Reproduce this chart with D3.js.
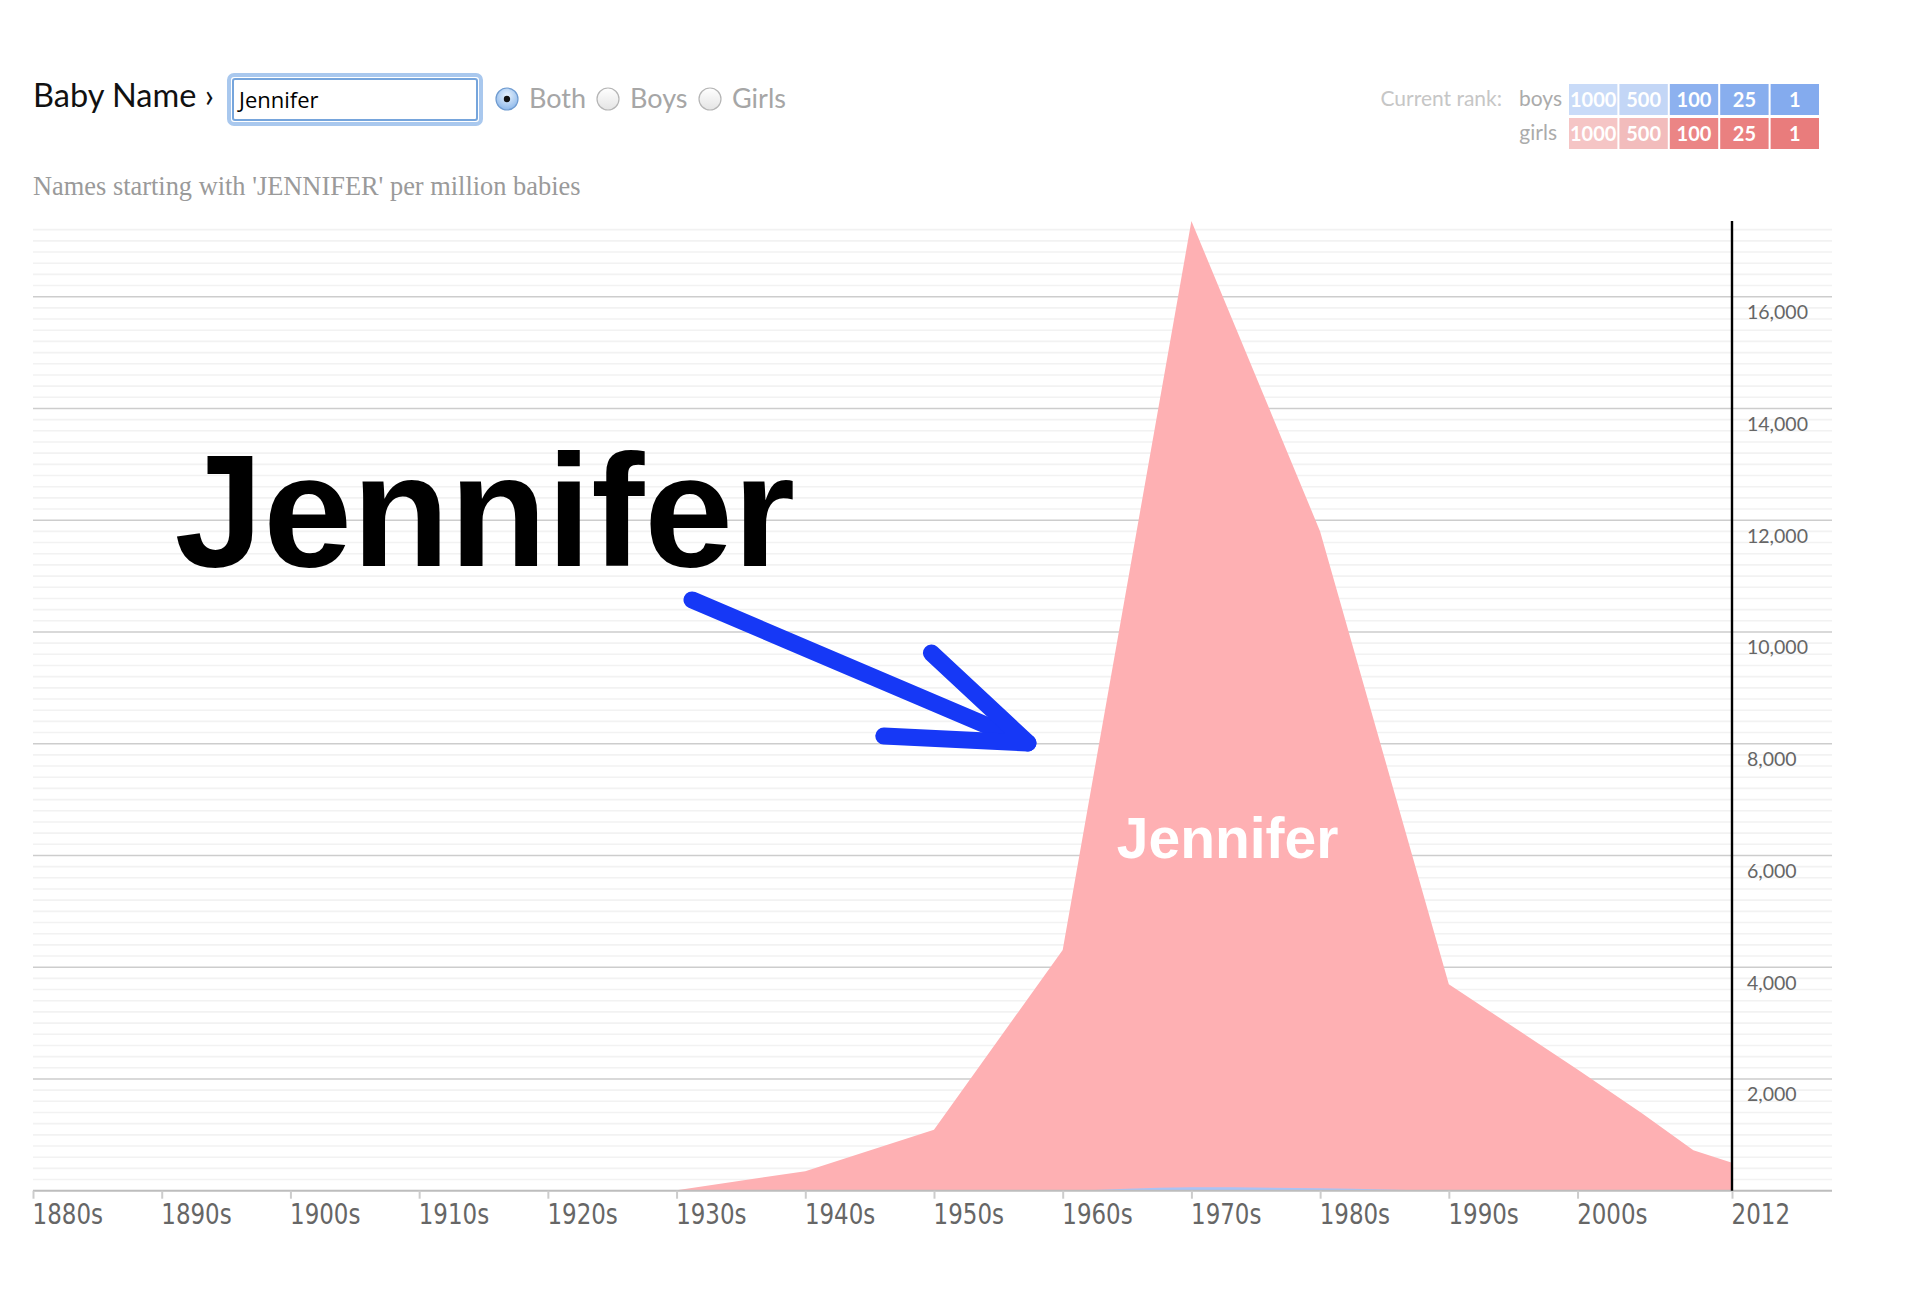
<!DOCTYPE html>
<html>
<head>
<meta charset="utf-8">
<script src="https://cdn.jsdelivr.net/npm/d3@7/dist/d3.min.js"></script>
<style>
  html, body { margin: 0; padding: 0; background: #fff; }
  svg { display: block; }
</style>
</head>
<body>
<svg id="chart" width="1920" height="1301"></svg>
<script>
// ---------- data ----------
const years = [1880, 1890, 1900, 1910, 1920, 1930, 1940, 1950, 1960, 1970, 1980, 1990, 2000, 2005, 2009, 2012];
const girlsValues = [0, 0, 0, 0, 0, 8, 350, 1090, 4310, 17355, 11800, 3694, 2170, 1385, 723, 501];
const boysValues  = [0, 0, 0, 0, 0, 0, 0, 0, 2, 60, 45, 4, 0, 0, 0, 0];
const xTickValues = [1880, 1890, 1900, 1910, 1920, 1930, 1940, 1950, 1960, 1970, 1980, 1990, 2000, 2012];
const xTickLabels = ["1880s", "1890s", "1900s", "1910s", "1920s", "1930s", "1940s", "1950s", "1960s", "1970s", "1980s", "1990s", "2000s", "2012"];
const yTickValues = [2000, 4000, 6000, 8000, 10000, 12000, 14000, 16000];
const rankLabels = ["1000", "500", "100", "25", "1"];
const boysRankColors = ["#c9dbf8", "#c3d6f6", "#8db1ef", "#88aeee", "#84abee"];
const girlsRankColors = ["#f5c5c5", "#f2bcbc", "#eb8585", "#ea8080", "#e97c7c"];
const radioOptions = ["Both", "Boys", "Girls"];
const searchName = "Jennifer";
const subtitle = "Names starting with 'JENNIFER' per million babies";
// annotation arrow in data space [year, value]
const arrowShaft = [[1931.2, 10573], [1957.3, 8013]];
const arrowHead = [[1949.8, 9624], [1957.3, 8013], [1946.1, 8139]];

// ---------- layout ----------
const svg = d3.select("#chart");
const x = d3.scaleLinear().domain([1880, 2012]).range([33, 1732]);
const y = d3.scaleLinear().domain([0, 17355]).range([1190.7, 221]);
const gridRight = 1832;

// ---------- header ----------
const uiFont = "Lato, 'Open Sans', sans-serif";
svg.append("text").attr("x", 33).attr("y", 107)
  .attr("font-family", uiFont).attr("font-size", 32.5).attr("fill", "#111")
  .text("Baby Name \u203A");

// input box
svg.append("rect").attr("x", 229).attr("y", 75).attr("width", 252).attr("height", 49).attr("rx", 5)
  .attr("fill", "#fff").attr("stroke", "#a9c8ee").attr("stroke-width", 4);
svg.append("rect").attr("x", 233).attr("y", 79).attr("width", 244).attr("height", 41).attr("rx", 2)
  .attr("fill", "#fff").attr("stroke", "#76a5dc").attr("stroke-width", 2);
svg.append("text").attr("x", 239).attr("y", 108)
  .attr("font-family", "'Open Sans', sans-serif").attr("font-size", 22).attr("fill", "#000")
  .text(searchName);

// radio buttons
const defs = svg.append("defs");
const gSel = defs.append("radialGradient").attr("id", "radioSel").attr("cx", "50%").attr("cy", "35%").attr("r", "65%");
gSel.append("stop").attr("offset", "0%").attr("stop-color", "#e8f2fd");
gSel.append("stop").attr("offset", "100%").attr("stop-color", "#8db8ea");
const gOff = defs.append("linearGradient").attr("id", "radioOff").attr("x1", "0").attr("y1", "0").attr("x2", "0").attr("y2", "1");
gOff.append("stop").attr("offset", "0%").attr("stop-color", "#ffffff");
gOff.append("stop").attr("offset", "100%").attr("stop-color", "#e4e4e4");

const radioX = [507, 608, 710];
radioOptions.forEach((lab, i) => {
  const cx = radioX[i];
  svg.append("circle").attr("cx", cx).attr("cy", 99).attr("r", 11)
    .attr("fill", i === 0 ? "url(#radioSel)" : "url(#radioOff)")
    .attr("stroke", i === 0 ? "#6f9bd0" : "#b5b5b5").attr("stroke-width", 1.2);
  if (i === 0) svg.append("circle").attr("cx", cx).attr("cy", 99).attr("r", 3.2).attr("fill", "#111");
  svg.append("text").attr("x", cx + 22).attr("y", 108)
    .attr("font-family", uiFont).attr("font-size", 27).attr("fill", "#a6a6a6").text(lab);
});

// subtitle
svg.append("text").attr("x", 33).attr("y", 195)
  .attr("font-family", "'Liberation Serif', 'DejaVu Serif', serif").attr("font-size", 26.4).attr("fill", "#9a9a9a")
  .text(subtitle);

// rank legend
svg.append("text").attr("x", 1502).attr("y", 106).attr("text-anchor", "end")
  .attr("font-family", uiFont).attr("font-size", 21).attr("fill", "#c6c6c6").text("Current rank:");
svg.append("text").attr("x", 1562).attr("y", 106).attr("text-anchor", "end")
  .attr("font-family", uiFont).attr("font-size", 21).attr("fill", "#ababab").text("boys");
svg.append("text").attr("x", 1557).attr("y", 140).attr("text-anchor", "end")
  .attr("font-family", uiFont).attr("font-size", 21).attr("fill", "#ababab").text("girls");
const rankX = d3.scaleBand().domain(rankLabels).range([1569, 1819]).paddingInner(0.04);
[[boysRankColors, 84], [girlsRankColors, 118]].forEach(([cols, top]) => {
  const g = svg.append("g");
  g.selectAll("rect").data(rankLabels).join("rect")
    .attr("x", d => rankX(d)).attr("y", top).attr("width", rankX.bandwidth()).attr("height", 31)
    .attr("fill", (d, i) => cols[i]);
  g.selectAll("text").data(rankLabels).join("text")
    .attr("x", d => rankX(d) + rankX.bandwidth() / 2).attr("y", top + 23)
    .attr("text-anchor", "middle").attr("font-family", uiFont).attr("font-weight", 700)
    .attr("font-size", 20).attr("fill", "#fff").text(d => d);
});

// ---------- grid ----------
const minorVals = d3.range(200, 17201, 200).filter(v => v % 2000 !== 0);
svg.append("g").selectAll("line").data(minorVals).join("line")
  .attr("x1", 33).attr("x2", gridRight).attr("y1", d => y(d)).attr("y2", d => y(d))
  .attr("stroke", "#f2f2f2").attr("stroke-width", 1.6);
svg.append("g").selectAll("line").data(yTickValues).join("line")
  .attr("x1", 33).attr("x2", gridRight).attr("y1", d => y(d)).attr("y2", d => y(d))
  .attr("stroke", "#cdcdcd").attr("stroke-width", 1.6);

// ---------- areas ----------
const girlsData = years.map((yr, i) => ({ year: yr, v: girlsValues[i] }));
const boysData = years.map((yr, i) => ({ year: yr, v: boysValues[i] }));
const area = d3.area().x(d => x(d.year)).y0(y(0)).y1(d => y(d.v));
svg.append("path").datum(girlsData).attr("d", area).attr("fill", "#feb0b3");
svg.append("path").datum(boysData).attr("d", area.curve(d3.curveMonotoneX)).attr("fill", "#a9c3f6");

// ---------- axes ----------
svg.append("line").attr("x1", 33).attr("x2", gridRight).attr("y1", y(0)).attr("y2", y(0))
  .attr("stroke", "#bdbdbd").attr("stroke-width", 2);

const xAxis = d3.axisBottom(x).tickValues(xTickValues).tickSize(8).tickSizeOuter(0)
  .tickFormat((d, i) => xTickLabels[i]);
const gx = svg.append("g").attr("transform", `translate(0,${y(0)})`).call(xAxis);
gx.select(".domain").remove();
gx.selectAll(".tick line").attr("stroke", "#cccccc").attr("stroke-width", 2);
gx.selectAll(".tick text").attr("text-anchor", "start").attr("x", -1).attr("dy", 0).attr("y", 33)
  .attr("transform", "scale(0.88,1)")
  .attr("font-family", "'Liberation Sans Narrow', 'DejaVu Sans Condensed', 'Roboto Condensed', sans-serif")
  .attr("font-size", 29).attr("fill", "#666");

// current year line
svg.append("line").attr("x1", x(2012)).attr("x2", x(2012)).attr("y1", y(17355)).attr("y2", y(0))
  .attr("stroke", "#000").attr("stroke-width", 2.4);

const yAxis = d3.axisRight(y).tickValues(yTickValues).tickSize(0).tickFormat(d3.format(","));
const gy = svg.append("g").attr("transform", `translate(${x(2012) + 15},0)`).call(yAxis);
gy.select(".domain").remove();
gy.selectAll(".tick text").attr("x", 0).attr("dy", 0).attr("y", 22)
  .attr("font-family", uiFont).attr("font-size", 19.5).attr("fill", "#666");

// ---------- annotations ----------
svg.append("text").attr("x", x(1891.0)).attr("y", y(11181))
  .attr("font-family", "'Liberation Sans', Arial, sans-serif").attr("font-weight", 700)
  .attr("font-size", 159.5).attr("fill", "#000").text(searchName);

svg.append("text").attr("x", x(1964.2)).attr("y", y(5956))
  .attr("font-family", "'Liberation Sans', Arial, sans-serif").attr("font-weight", 700)
  .attr("font-size", 57).attr("fill", "#fff").text(searchName);

const line = d3.line().x(d => x(d[0])).y(d => y(d[1]));
svg.append("path").attr("d", line(arrowShaft)).attr("fill", "none")
  .attr("stroke", "#1638f6").attr("stroke-width", 17).attr("stroke-linecap", "round");
svg.append("path").attr("d", line(arrowHead)).attr("fill", "none")
  .attr("stroke", "#1638f6").attr("stroke-width", 17).attr("stroke-linecap", "round").attr("stroke-linejoin", "round");
</script>
</body>
</html>
